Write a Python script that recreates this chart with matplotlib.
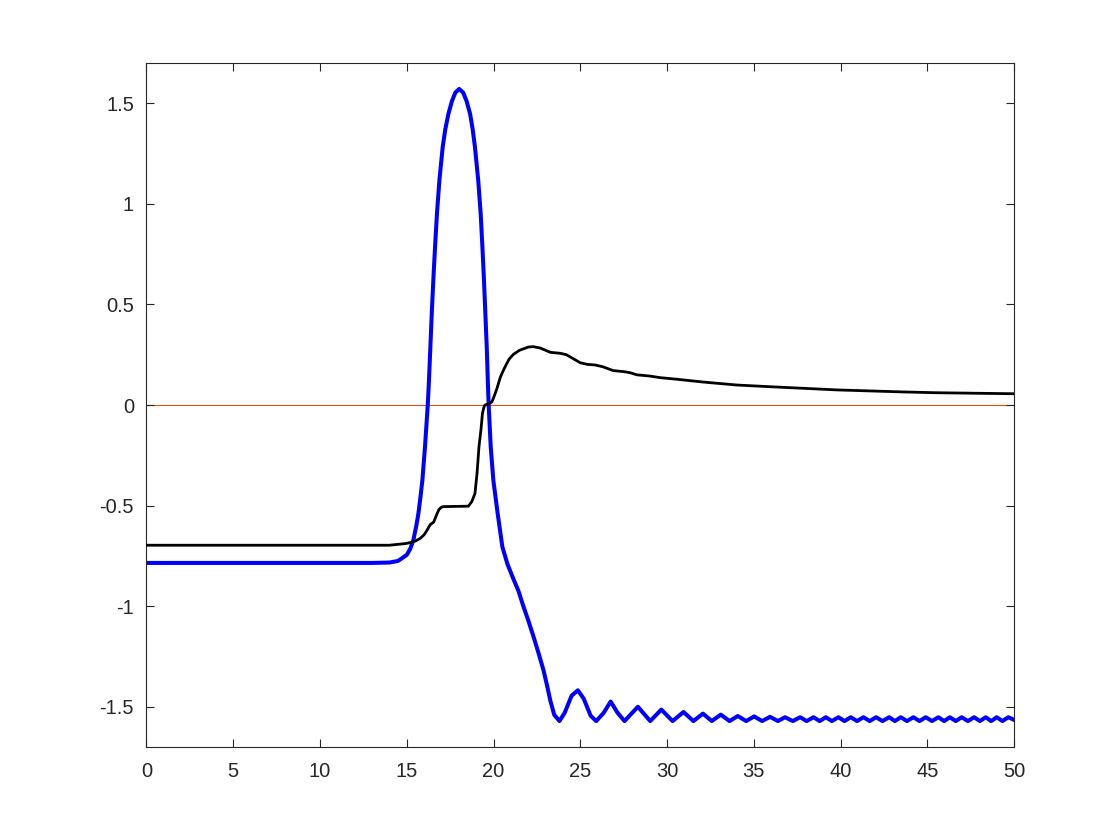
import matplotlib
matplotlib.use("Agg")
import matplotlib.pyplot as plt

plt.rcParams['font.family'] = ['Liberation Sans', 'DejaVu Sans']

# ---- data ----
blue_x = [0, 13.0, 14.0, 14.5, 15.0, 15.2, 15.38, 15.55, 15.67, 15.8, 15.90, 16.05, 16.21, 16.28,
          16.36, 16.44, 16.53, 16.63, 16.74, 16.88, 17.07, 17.22, 17.40, 17.6, 17.8, 18.02,
          18.25, 18.45, 18.65, 18.8, 18.93, 19.12, 19.26, 19.36, 19.45, 19.53, 19.61, 19.67,
          19.72, 19.84, 19.99, 20.24, 20.51, 20.8, 21.1, 21.44, 21.73, 22.0, 22.3, 22.6,
          22.88, 23.1, 23.27, 23.5, 23.8,
          24.1, 24.5, 24.86, 25.2, 25.6, 25.92, 26.35, 26.75, 27.15, 27.55, 28.32, 29.03,
          29.67, 30.32, 30.95, 31.52, 32.07, 32.58, 33.10, 33.6, 34.08, 34.56, 35.02, 35.48,
          35.94, 36.39, 36.8, 37.25, 37.67, 38.05, 38.44, 38.8, 39.15, 39.5, 39.88, 40.23,
          40.59, 40.95, 41.32, 41.68, 42.05, 42.42, 42.8, 43.13, 43.47, 43.83, 44.2, 44.55,
          44.91, 45.27, 45.64, 45.97, 46.3, 46.64, 46.98, 47.34, 47.7, 48.03, 48.37, 48.68,
          49.0, 49.33, 49.67, 50.0]
blue_y = [-0.785, -0.785, -0.783, -0.775, -0.745, -0.715, -0.672, -0.60, -0.54, -0.45, -0.374, -0.209, 0.0, 0.123,
          0.288, 0.454, 0.62, 0.785, 0.951, 1.116, 1.282, 1.37, 1.447, 1.51, 1.553, 1.571,
          1.553, 1.51, 1.447, 1.37, 1.282, 1.116, 0.951, 0.785, 0.62, 0.454, 0.288, 0.123,
          0.0, -0.209, -0.374, -0.54, -0.705, -0.79, -0.855, -0.925, -1.003, -1.07, -1.15, -1.235,
          -1.318, -1.40, -1.468, -1.54, -1.571,
          -1.53, -1.445, -1.418, -1.46, -1.545, -1.571, -1.53, -1.474, -1.53, -1.571, -1.50, -1.571,
          -1.514, -1.571, -1.526, -1.571, -1.534, -1.571, -1.539, -1.571, -1.546, -1.571, -1.548, -1.571,
          -1.550, -1.571, -1.552, -1.571, -1.552, -1.571, -1.552, -1.571, -1.552, -1.571, -1.552, -1.571,
          -1.552, -1.571, -1.552, -1.571, -1.552, -1.571, -1.552, -1.571, -1.552, -1.571, -1.552, -1.571,
          -1.552, -1.571, -1.552, -1.571, -1.552, -1.571, -1.552, -1.571, -1.552, -1.571, -1.552, -1.571,
          -1.552, -1.571, -1.552, -1.565]

black_x = [0, 14.0, 14.9, 15.2, 15.5, 15.76, 16.0, 16.17, 16.35, 16.44, 16.55, 16.7, 16.85, 17.01,
           17.12, 18.55, 18.75, 18.93, 19.05, 19.16, 19.28, 19.36, 19.45, 19.51, 19.7, 19.9,
           20.0, 20.19, 20.4, 20.66, 20.9, 21.15, 21.5, 22.0, 22.3, 22.7, 23.27, 23.85, 24.2,
           24.6, 25.0, 25.4, 25.86, 26.3, 26.9, 27.5, 27.9, 28.26, 29.0, 29.6, 30.57, 32.1,
           34.0, 35.9, 37.86, 39.8, 41.7, 43.6, 45.5, 48.2, 50.0]
black_y = [-0.697, -0.697, -0.689, -0.684, -0.676, -0.664, -0.645, -0.622, -0.595, -0.589, -0.582, -0.55, -0.52, -0.507,
           -0.505, -0.503, -0.48, -0.44, -0.34, -0.209, -0.12, -0.043, -0.01, 0.0, 0.005, 0.015,
           0.035, 0.08, 0.14, 0.189, 0.228, 0.252, 0.272, 0.288, 0.29, 0.283, 0.262, 0.257, 0.25,
           0.23, 0.21, 0.202, 0.199, 0.19, 0.171, 0.166, 0.16, 0.15, 0.144, 0.136, 0.128, 0.114,
           0.0995, 0.091, 0.083, 0.075, 0.07, 0.065, 0.061, 0.058, 0.056]

zero_x = [0, 50]
zero_y = [0, 0]

xticks = [0, 5, 10, 15, 20, 25, 30, 35, 40, 45, 50]
xtick_labels = ['0', '5', '10', '15', '20', '25', '30', '35', '40', '45', '50']
yticks = [-1.5, -1, -0.5, 0, 0.5, 1, 1.5]
ytick_labels = ['-1.5', '-1', '-0.5', '0', '0.5', '1', '1.5']

# ---- figure ----
fig = plt.figure(figsize=(11.2, 8.4), dpi=100)
ax = fig.add_axes([0.1308, 0.1107, 0.7746, 0.8143])

ax.plot(zero_x, zero_y, color='#D95319', lw=0.8, zorder=1)
ax.plot(blue_x, blue_y, color='#0000FF', lw=2.9, zorder=2, solid_joinstyle='round')
ax.plot(black_x, black_y, color='black', lw=2.0, zorder=3, solid_joinstyle='round')

ax.set_xlim(0, 50)
ax.set_ylim(-1.7, 1.7)
ax.set_xticks(xticks)
ax.set_xticklabels(xtick_labels)
ax.set_yticks(yticks)
ax.set_yticklabels(ytick_labels)

axcol = '#262626'
for s in ax.spines.values():
    s.set_color(axcol)
    s.set_linewidth(0.8)
ax.tick_params(direction='in', length=6, width=0.8, colors=axcol, labelsize=14.5,
               top=True, right=True, pad=9)
ax.tick_params(axis='x', pad=11)

fig.savefig('out.png', dpi=100, facecolor='white')
